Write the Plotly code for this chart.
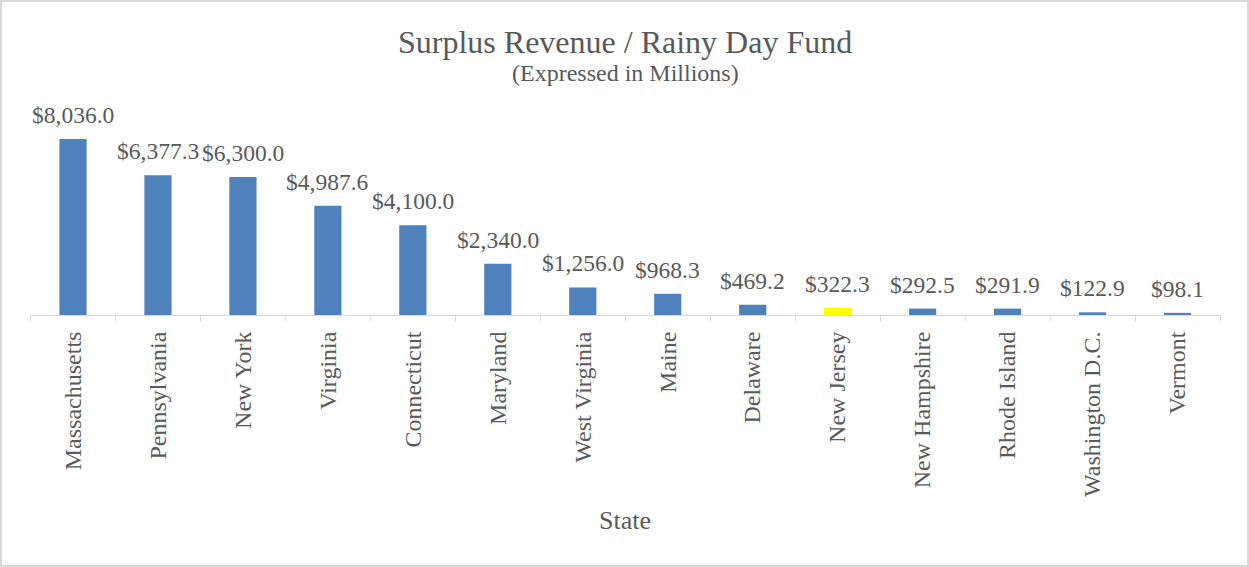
import plotly.graph_objects as go

states = ["Massachusetts", "Pennsylvania", "New York", "Virginia", "Connecticut",
          "Maryland", "West Virginia", "Maine", "Delaware", "New Jersey",
          "New Hampshire", "Rhode Island", "Washington D.C.", "Vermont"]
funds = [8036.0, 6377.3, 6300.0, 4987.6, 4100.0, 2340.0, 1256.0, 968.3,
         469.2, 322.3, 292.5, 291.9, 122.9, 98.1]
highlight = "New Jersey"

BLUE = "#4F81BD"
YELLOW = "#FFFF00"
TXT = "#595959"
FONT = "Times New Roman, Liberation Serif, serif"

W, H = 1249, 567
ML, MR, MT, MB = 30, 29, 100, 252
PW, PH = W - ML - MR, H - MT - MB

colors = [YELLOW if s == highlight else BLUE for s in states]

fig = go.Figure()
fig.add_trace(go.Bar(
    x=states, y=funds, marker=dict(color=colors, line=dict(width=0)),
    hoverinfo="x+y",
))

labels = [f"${v:,.1f}" for v in funds]
for s, v, t in zip(states, funds, labels):
    fig.add_annotation(x=s, y=v, xref="x", yref="y", text=t, showarrow=False,
                       yanchor="bottom", yshift=9,
                       font=dict(family=FONT, size=23.5, color=TXT))

def py(p):
    return (H - MB - p) / PH

fig.add_annotation(x=0.5, y=py(42), xref="paper", yref="paper",
                   text="Surplus Revenue / Rainy Day Fund", showarrow=False,
                   yanchor="middle", font=dict(family=FONT, size=32, color=TXT))
fig.add_annotation(x=0.5, y=py(73), xref="paper", yref="paper",
                   text="(Expressed in Millions)", showarrow=False,
                   yanchor="middle", font=dict(family=FONT, size=24, color=TXT))
fig.add_annotation(x=0.5, y=py(520), xref="paper", yref="paper",
                   text="State", showarrow=False,
                   yanchor="middle", font=dict(family=FONT, size=26, color=TXT))

fig.add_shape(type="rect", xref="paper", yref="paper",
              x0=(1 - ML) / PW, x1=(W - 1 - ML) / PW,
              y0=py(H - 1), y1=py(1),
              line=dict(color="#D9D9D9", width=2), fillcolor="rgba(0,0,0,0)")

fig.update_layout(
    width=W, height=H,
    margin=dict(l=ML, r=MR, t=MT, b=MB, autoexpand=False),
    paper_bgcolor="white", plot_bgcolor="white",
    bargap=0.68, showlegend=False,
    font=dict(family=FONT, color=TXT),
)
fig.update_xaxes(
    type="category", showline=True, linecolor="#D9D9D9", linewidth=1,
    ticks="outside", tickson="boundaries", ticklen=5, tickcolor="#D9D9D9",
    tickangle=-90, tickfont=dict(family=FONT, size=24, color=TXT),
    ticklabelstandoff=6,
    showgrid=False, zeroline=False,
)
fig.update_yaxes(range=[0, 8036.0 * PH / 176], visible=False, showgrid=False)

fig.write_html("out.html", config={"displayModeBar": False},
               post_script="document.body.style.margin='0';")
